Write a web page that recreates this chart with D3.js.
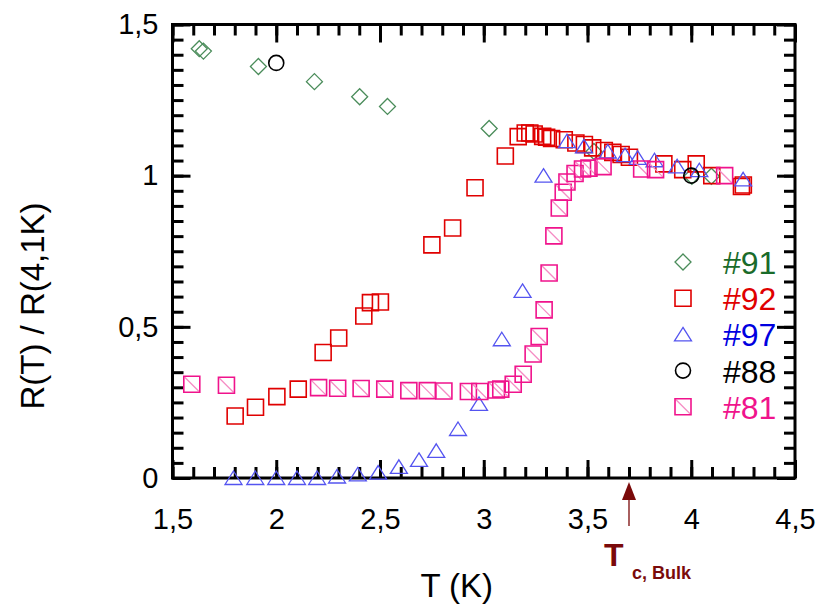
<!DOCTYPE html>
<html><head><meta charset="utf-8">
<script src="https://cdn.jsdelivr.net/npm/d3@7"></script>
<style>body{margin:0;background:#fff}svg{display:block;font-family:"Liberation Sans",Arial,sans-serif}</style>
</head><body>
<svg id="c" width="819" height="607"></svg>
<script>
// ---- data ----
const s91T = [1.629,1.649,1.914,2.184,2.402,2.536,3.026,3.531,4.003,4.097];
const s91R = [1.420,1.412,1.361,1.311,1.261,1.229,1.156,1.080,0.998,0.998];

const s88T = [2.0,4.0];
const s88R = [1.373,1.0];

const s92T = [1.802,1.900,2.003,2.106,2.226,2.301,2.422,2.454,2.502,2.750,2.850,2.958,3.104,3.166,3.200,3.222,3.243,3.284,3.303,3.327,3.388,3.444,3.485,3.525,3.581,3.622,3.662,3.702,3.868,3.959,4.024,4.099,4.242,4.251];
const s92R = [0.205,0.234,0.269,0.294,0.415,0.463,0.536,0.580,0.582,0.771,0.827,0.960,1.065,1.129,1.141,1.141,1.138,1.130,1.127,1.123,1.119,1.108,1.103,1.092,1.083,1.077,1.070,1.061,1.039,1.020,1.039,1.000,0.964,0.969];

const s97T = [1.794,1.899,2.000,2.100,2.197,2.293,2.393,2.491,2.591,2.688,2.771,2.876,2.977,3.087,3.187,3.288,3.401,3.483,3.598,3.681,3.742,3.823,3.932,4.039,4.250];
const s97R = [0.000,0.000,0.000,0.000,0.000,0.005,0.012,0.018,0.037,0.060,0.090,0.162,0.245,0.459,0.619,1.000,1.114,1.097,1.080,1.068,1.059,1.051,1.031,1.018,0.988];

const s81T = [1.593,1.760,2.204,2.296,2.409,2.523,2.639,2.728,2.808,2.926,2.981,3.061,3.082,3.142,3.190,3.238,3.267,3.291,3.315,3.338,3.364,3.383,3.401,3.440,3.476,3.507,3.575,3.761,3.828,4.161];
const s81R = [0.310,0.307,0.299,0.297,0.296,0.294,0.289,0.289,0.288,0.286,0.286,0.291,0.294,0.310,0.343,0.410,0.468,0.556,0.678,0.801,0.893,0.945,0.979,1.007,1.022,1.025,1.030,1.022,1.020,1.000];

const legendNames = ["#91","#92","#97","#88","#81"];
const xDomain = [1.5,4.5];
const yDomain = [0,1.5];
const xMajor = [1.5,2,2.5,3,3.5,4,4.5];
const yMajor = [0,0.5,1,1.5];
const tcBulk = 3.7;

// ---- layout ----
const svg = d3.select("#c");
const L = 172.5, R = 795, T = 24.5, B = 478;
const x = d3.scaleLinear().domain(xDomain).range([L,R]);
const y = d3.scaleLinear().domain(yDomain).range([B,T]);
const xMinor = d3.range(15,46).map(d=>d/10);
const yMinor = d3.range(0,31).map(d=>d/20);
const fmt = d => String(d).replace(".", ",");
const FF = "Liberation Sans, Arial, sans-serif";

function styleAxis(g){ g.select(".domain").remove(); g.selectAll("line").attr("stroke","#000").attr("stroke-width",3); }

// minor ticks
svg.append("g").attr("transform",`translate(0,${B})`).call(d3.axisBottom(x).tickValues(xMinor).tickSize(-11).tickFormat("")).call(styleAxis);
svg.append("g").attr("transform",`translate(0,${T})`).call(d3.axisTop(x).tickValues(xMinor).tickSize(-11).tickFormat("")).call(styleAxis);
svg.append("g").attr("transform",`translate(${L},0)`).call(d3.axisLeft(y).tickValues(yMinor).tickSize(-11).tickFormat("")).call(styleAxis);
svg.append("g").attr("transform",`translate(${R},0)`).call(d3.axisRight(y).tickValues(yMinor).tickSize(-11).tickFormat("")).call(styleAxis);
// major ticks with labels
const xb = svg.append("g").attr("transform",`translate(0,${B})`).call(d3.axisBottom(x).tickValues(xMajor).tickSize(-18).tickPadding(30).tickFormat(fmt)).call(styleAxis);
xb.selectAll("text").attr("font-size",29).attr("fill","#000").attr("font-family",FF);
svg.append("g").attr("transform",`translate(0,${T})`).call(d3.axisTop(x).tickValues(xMajor).tickSize(-18).tickFormat("")).call(styleAxis);
const yl = svg.append("g").attr("transform",`translate(${L},0)`).call(d3.axisLeft(y).tickValues(yMajor).tickSize(-18).tickPadding(14).tickFormat(fmt)).call(styleAxis);
yl.selectAll("text").attr("font-size",29).attr("fill","#000").attr("font-family",FF);
svg.append("g").attr("transform",`translate(${R},0)`).call(d3.axisRight(y).tickValues(yMajor).tickSize(-18).tickFormat("")).call(styleAxis);

// frame
svg.append("rect").attr("x",L).attr("y",T).attr("width",R-L).attr("height",B-T).attr("fill","none").attr("stroke","#000").attr("stroke-width",3);

// axis titles
svg.append("text").attr("x",(L+R)/2-27).attr("y",597).attr("text-anchor","middle").attr("font-size",33).text("T (K)");
svg.append("text").attr("transform","translate(44,306) rotate(-90)").attr("text-anchor","middle").attr("font-size",33).text("R(T) / R(4,1K)");

// marker shapes
const shapes = {
  diamond: "M0,-8L8,0L0,8L-8,0Z",
  square: "M-8,-8H8V8H-8Z",
  triangle: "M0,-7L8.5,6.5H-8.5Z"
};
const C = {g:"#4a8c5a", gt:"#1a6b2a", r:"#e00000", b:"#5454f0", bt:"#0000e0", k:"#000", p:"#f0138c", pl:"#f58cc4"};

function drawSym(g, kind){
  if(kind==="91") g.append("path").attr("d",shapes.diamond).attr("fill","none").attr("stroke",C.g).attr("stroke-width",1.3);
  if(kind==="92") g.append("path").attr("d",shapes.square).attr("fill","none").attr("stroke",C.r).attr("stroke-width",1.6);
  if(kind==="97") g.append("path").attr("d",shapes.triangle).attr("fill","none").attr("stroke",C.b).attr("stroke-width",1.3);
  if(kind==="88") g.append("circle").attr("r",7.5).attr("fill","none").attr("stroke",C.k).attr("stroke-width",1.6);
  if(kind==="81"){
    g.append("path").attr("d","M-7,-7L7,7").attr("stroke",C.pl).attr("stroke-width",1.3);
    g.append("path").attr("d",shapes.square).attr("fill","none").attr("stroke",C.p).attr("stroke-width",1.6);
  }
}
function series(Ts, Rs, kind){
  const g = svg.append("g");
  Ts.forEach((t,i)=>{ drawSym(g.append("g").attr("transform",`translate(${x(t)},${y(Rs[i])})`), kind); });
}
series(s91T,s91R,"91");
series(s92T,s92R,"92");
series(s97T,s97R,"97");
series(s81T,s81R,"81");
series(s88T,s88R,"88");

// legend
const legKinds = ["91","92","97","88","81"];
const legCols = [C.gt,C.r,C.bt,C.k,C.p];
legKinds.forEach((k,i)=>{
  const yy = 262 + i*36.2;
  drawSym(svg.append("g").attr("transform",`translate(683,${yy})`), k);
  svg.append("text").attr("x",723).attr("y",yy+12).attr("font-size",32).attr("fill",legCols[i]).text(legendNames[i]);
});

// Tc bulk arrow
const ax = x(tcBulk);
const dr = "#7a0a0a";
svg.append("line").attr("x1",ax).attr("x2",ax).attr("y1",526).attr("y2",495).attr("stroke",dr).attr("stroke-width",1.3);
svg.append("path").attr("d",`M${ax},${B+4}L${ax+7},${B+22}L${ax-7},${B+22}Z`).attr("fill",dr);
svg.append("text").attr("x",ax-25).attr("y",566).attr("font-size",32).attr("font-weight","bold").attr("fill",dr).attr("font-family",FF).text("T");
svg.append("text").attr("x",ax+3).attr("y",579).attr("font-size",18).attr("font-weight","bold").attr("fill",dr).text("c, Bulk");
</script>
</body></html>
